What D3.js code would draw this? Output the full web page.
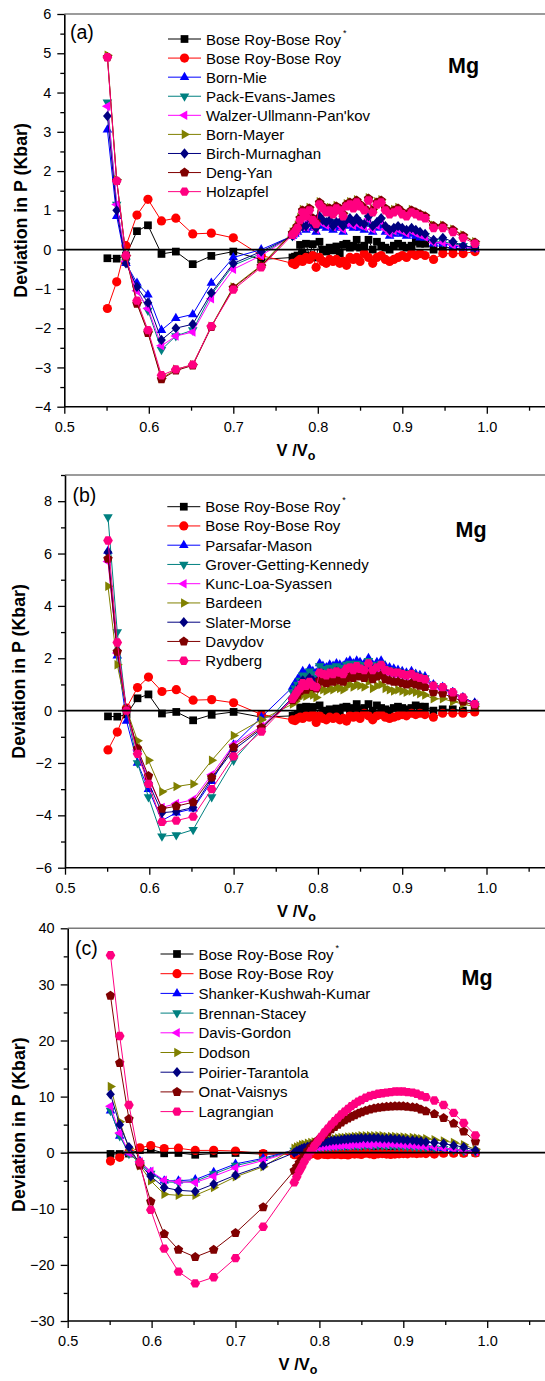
<!DOCTYPE html>
<html lang="en">
<head>
<meta charset="UTF-8">
<title>Deviation in P - Mg</title>
<script src="https://d3js.org/d3.v7.min.js"></script>
<style>
  body { margin: 0; background: #fff; }
  svg { display: block; }
  text { font-family: "Liberation Sans", Arial, Helvetica, sans-serif; }
</style>
</head>
<body>
<svg id="chart" width="545" height="1381"></svg>
<script>
// V/Vo values (11 sparse points, then the dense run)
var vRatio = [0.551, 0.562, 0.573, 0.586, 0.599, 0.615, 0.632, 0.652, 0.674, 0.700, 0.733,
  0.770, 0.773, 0.776, 0.779, 0.782, 0.786, 0.790, 0.794, 0.798, 0.802, 0.806, 0.810, 0.814, 0.818,
  0.822, 0.826, 0.830, 0.834, 0.838, 0.842, 0.846, 0.850, 0.855, 0.860, 0.865, 0.870, 0.875, 0.880,
  0.885, 0.890, 0.895, 0.900, 0.905, 0.911, 0.916, 0.921, 0.927, 0.937, 0.948, 0.960, 0.972, 0.986];

// shared by all three panels
var boseRoyStar = [-0.22, -0.23, -0.15, 0.47, 0.62, -0.11, -0.05, -0.37, -0.16, -0.05, -0.25,
  -0.2, -0.18, -0.15, 0.12, -0.1, 0.15, -0.15, 0.14, -0.2, 0.2, 0.0, -0.05, 0.05, -0.02, 0.08, -0.1, 0.12, 0.15, 0.05, 0.1,
  0.25, 0.05, 0.1, 0.25, 0.0, 0.2, 0.1, 0.05, 0.0, 0.1, 0.15, 0.1, 0.05, 0.1, 0.2, 0.15, 0.15, 0.0, 0.05, 0.05, 0.0, 0.0];
var boseRoy = [-1.5, -0.82, 0.1, 0.88, 1.28, 0.73, 0.8, 0.4, 0.42, 0.3, -0.15,
  -0.35, -0.38, -0.3, -0.25, -0.3, -0.2, -0.25, -0.15, -0.45, -0.2, -0.3, -0.35, -0.25, -0.3, -0.25, -0.35, -0.3, -0.4, -0.2, -0.25,
  -0.2, -0.3, -0.1, -0.2, -0.35, -0.2, -0.15, -0.25, -0.3, -0.25, -0.2, -0.15, -0.2, -0.1, -0.15, -0.1, -0.15, -0.25, -0.1, -0.1, -0.1, -0.05];

// panel (a)
var bornMie = [3.05, 0.85, -0.35, -0.85, -1.15, -2.05, -1.75, -1.65, -0.85, -0.2, 0.0,
  0.35, 0.4, 0.45, 0.6, 0.55, 0.5, 0.65, 0.55, 0.45, 0.7, 0.6, 0.55, 0.6, 0.5, 0.6, 0.55, 0.45, 0.6, 0.65, 0.55,
  0.6, 0.55, 0.5, 0.65, 0.45, 0.55, 0.6, 0.45, 0.35, 0.4, 0.45, 0.4, 0.35, 0.4, 0.35, 0.3, 0.3, 0.15, 0.15, 0.1, 0.05, 0.02];
var packEvansJames = [3.75, 1.15, -0.3, -1.0, -1.55, -2.55, -2.2, -2.05, -1.15, -0.4, -0.1,
  0.35, 0.45, 0.5, 0.65, 0.6, 0.6, 0.75, 0.65, 0.55, 0.8, 0.7, 0.65, 0.7, 0.6, 0.7, 0.65, 0.55, 0.7, 0.75, 0.65,
  0.75, 0.65, 0.6, 0.8, 0.55, 0.65, 0.75, 0.55, 0.45, 0.5, 0.55, 0.5, 0.45, 0.5, 0.45, 0.4, 0.35, 0.2, 0.2, 0.15, 0.1, 0.05];
var walzerUllmann = [3.65, 1.15, -0.3, -1.05, -1.5, -2.45, -2.2, -2.1, -1.25, -0.5, -0.15,
  0.35, 0.42, 0.48, 0.62, 0.58, 0.58, 0.72, 0.62, 0.52, 0.78, 0.68, 0.62, 0.68, 0.58, 0.68, 0.62, 0.52, 0.68, 0.72, 0.62,
  0.72, 0.62, 0.58, 0.78, 0.52, 0.62, 0.72, 0.52, 0.42, 0.48, 0.52, 0.48, 0.42, 0.48, 0.42, 0.38, 0.32, 0.18, 0.18, 0.12, 0.08, 0.04];
var bornMayer = [4.95, 1.78, -0.15, -1.35, -2.1, -3.28, -3.05, -2.93, -1.95, -0.95, -0.4,
  0.45, 0.52, 0.62, 0.82, 1.02, 0.92, 1.07, 0.82, 0.72, 1.22, 1.12, 1.02, 1.07, 0.97, 1.12, 1.07, 0.92, 1.17, 1.22, 1.12,
  1.27, 1.17, 1.07, 1.32, 1.02, 1.22, 1.27, 1.07, 0.97, 1.02, 1.07, 0.97, 0.92, 1.02, 0.97, 0.92, 0.87, 0.62, 0.62, 0.52, 0.37, 0.2];
var birchMurnaghan = [3.4, 1.0, -0.35, -0.95, -1.35, -2.3, -2.0, -1.9, -1.1, -0.35, -0.05,
  0.35, 0.45, 0.5, 0.65, 0.6, 0.6, 0.8, 0.65, 0.55, 0.85, 0.75, 0.7, 0.75, 0.6, 0.7, 0.7, 0.6, 0.75, 0.8, 0.7,
  0.8, 0.7, 0.65, 0.85, 0.6, 0.7, 0.8, 0.6, 0.5, 0.55, 0.6, 0.55, 0.5, 0.55, 0.5, 0.45, 0.4, 0.25, 0.3, 0.2, 0.1, 0.05];
var dengYan = [4.9, 1.75, -0.18, -1.38, -2.12, -3.3, -3.08, -2.95, -1.97, -0.97, -0.42,
  0.42, 0.5, 0.6, 0.8, 1.0, 0.9, 1.05, 0.8, 0.7, 1.2, 1.1, 1.0, 1.05, 0.95, 1.1, 1.05, 0.9, 1.15, 1.2, 1.1,
  1.25, 1.15, 1.05, 1.3, 1.0, 1.2, 1.25, 1.05, 0.95, 1.0, 1.05, 0.95, 0.9, 1.0, 0.95, 0.9, 0.85, 0.6, 0.6, 0.5, 0.35, 0.18];
var holzapfel = [4.9, 1.75, -0.15, -1.3, -2.05, -3.2, -3.05, -2.93, -1.95, -1.02, -0.45,
  0.38, 0.45, 0.55, 0.75, 0.95, 0.85, 1.0, 0.75, 0.65, 1.15, 1.05, 0.95, 1.0, 0.9, 1.05, 1.0, 0.85, 1.1, 1.15, 1.05,
  1.2, 1.1, 1.0, 1.25, 0.95, 1.15, 1.2, 1.0, 0.9, 0.95, 1.0, 0.9, 0.85, 0.95, 0.9, 0.85, 0.8, 0.55, 0.55, 0.45, 0.3, 0.15];

// panel (b)
var parsafarMason = [6.1, 2.1, -0.4, -2.0, -3.0, -4.2, -3.9, -3.75, -2.7, -1.3, -0.25,
  0.9, 1.05, 1.2, 1.3, 1.5, 1.4, 1.6, 1.5, 1.45, 1.8, 1.7, 1.65, 1.75, 1.7, 1.8, 1.75, 1.7, 1.85, 1.9, 1.8,
  1.9, 1.85, 1.8, 2.0, 1.75, 1.85, 1.9, 1.7, 1.65, 1.6, 1.55, 1.5, 1.45, 1.5, 1.4, 1.35, 1.3, 1.0, 0.9, 0.7, 0.5, 0.3];
var groverGettingKennedy = [7.4, 3.0, 0.0, -2.0, -3.3, -4.8, -4.75, -4.55, -3.3, -1.9, -0.7,
  0.7, 0.85, 1.0, 1.15, 1.35, 1.3, 1.5, 1.4, 1.35, 1.7, 1.6, 1.55, 1.65, 1.6, 1.7, 1.65, 1.6, 1.75, 1.8, 1.7,
  1.8, 1.75, 1.7, 1.9, 1.65, 1.75, 1.8, 1.6, 1.55, 1.5, 1.5, 1.45, 1.4, 1.45, 1.35, 1.3, 1.25, 0.95, 0.85, 0.65, 0.45, 0.25];
var kuncLoaSyassen = [5.7, 2.2, 0.05, -1.5, -2.6, -3.7, -3.55, -3.4, -2.45, -1.3, -0.6,
  0.45, 0.6, 0.75, 0.9, 1.1, 1.0, 1.2, 1.1, 1.05, 1.4, 1.35, 1.3, 1.4, 1.35, 1.45, 1.4, 1.35, 1.5, 1.55, 1.5,
  1.6, 1.55, 1.5, 1.7, 1.5, 1.6, 1.65, 1.5, 1.45, 1.4, 1.4, 1.35, 1.3, 1.35, 1.25, 1.2, 1.15, 0.9, 0.8, 0.65, 0.45, 0.25];
var bardeen = [4.75, 1.75, 0.05, -1.15, -1.9, -3.1, -2.9, -2.8, -1.9, -0.95, -0.35,
  0.25, 0.35, 0.45, 0.55, 0.65, 0.55, 0.7, 0.6, 0.5, 0.85, 0.8, 0.75, 0.85, 0.8, 0.9, 0.85, 0.8, 0.95, 1.0, 0.9,
  1.0, 0.95, 0.9, 1.1, 0.85, 0.95, 1.0, 0.85, 0.8, 0.75, 0.8, 0.75, 0.7, 0.75, 0.7, 0.65, 0.6, 0.45, 0.45, 0.35, 0.25, 0.15];
var slaterMorse = [6.05, 2.3, 0.0, -1.55, -2.75, -3.9, -3.85, -3.7, -2.6, -1.5, -0.7,
  0.5, 0.65, 0.8, 0.95, 1.15, 1.05, 1.25, 1.15, 1.1, 1.45, 1.4, 1.35, 1.45, 1.4, 1.5, 1.45, 1.4, 1.55, 1.6, 1.55,
  1.65, 1.6, 1.55, 1.75, 1.55, 1.65, 1.7, 1.55, 1.5, 1.45, 1.45, 1.4, 1.35, 1.4, 1.3, 1.25, 1.2, 0.95, 0.85, 0.7, 0.5, 0.28];
var davydov = [5.8, 2.25, 0.05, -1.45, -2.5, -3.75, -3.65, -3.5, -2.55, -1.4, -0.65,
  0.4, 0.5, 0.6, 0.75, 0.9, 0.8, 1.0, 0.9, 0.85, 1.15, 1.1, 1.05, 1.15, 1.1, 1.2, 1.15, 1.1, 1.25, 1.3, 1.25,
  1.35, 1.3, 1.25, 1.4, 1.2, 1.3, 1.35, 1.2, 1.15, 1.1, 1.1, 1.05, 1.0, 1.05, 1.0, 0.95, 0.9, 0.7, 0.65, 0.5, 0.35, 0.2];
var rydberg = [6.5, 2.6, 0.0, -1.65, -2.8, -4.25, -4.2, -4.05, -3.0, -1.75, -0.8,
  0.45, 0.6, 0.75, 0.85, 1.05, 0.95, 1.1, 0.95, 0.9, 1.45, 1.4, 1.35, 1.45, 1.4, 1.5, 1.45, 1.4, 1.6, 1.65, 1.55,
  1.7, 1.6, 1.55, 1.8, 1.55, 1.65, 1.75, 1.55, 1.5, 1.45, 1.45, 1.4, 1.35, 1.4, 1.3, 1.25, 1.2, 0.95, 0.9, 0.7, 0.5, 0.25];

// panel (c)
var shankerKushwahKumar = [7.5, 3.0, 0.0, -1.5, -3.5, -5.0, -5.0, -4.8, -3.5, -2.0, -1.0,
  0.5, 0.6, 0.7, 0.8, 0.9, 0.9, 1.0, 1.0, 1.1, 1.1, 1.2, 1.1, 1.2, 1.3, 1.2, 1.3, 1.4, 1.3, 1.4, 1.4,
  1.3, 1.4, 1.5, 1.4, 1.5, 1.4, 1.4, 1.5, 1.4, 1.3, 1.4, 1.3, 1.3, 1.2, 1.2, 1.1, 1.0, 0.9, 0.8, 0.6, 0.4, 0.3];
var brennanStacey = [7.5, 3.0, -0.2, -1.8, -3.7, -5.2, -5.3, -5.1, -3.8, -2.3, -1.2,
  0.4, 0.5, 0.6, 0.7, 0.8, 0.8, 0.9, 0.9, 1.0, 1.0, 1.1, 1.0, 1.1, 1.2, 1.1, 1.2, 1.2, 1.2, 1.3, 1.3,
  1.2, 1.3, 1.3, 1.3, 1.3, 1.3, 1.3, 1.3, 1.3, 1.2, 1.2, 1.2, 1.1, 1.1, 1.0, 1.0, 0.9, 0.8, 0.7, 0.5, 0.3, 0.2];
var davisGordon = [8.3, 3.5, 0.0, -1.6, -3.3, -4.9, -5.2, -5.3, -4.2, -2.7, -1.4,
  0.3, 0.4, 0.5, 0.6, 0.7, 0.8, 0.8, 0.9, 1.0, 1.0, 1.1, 1.1, 1.2, 1.2, 1.3, 1.3, 1.4, 1.3, 1.4, 1.5,
  1.4, 1.5, 1.5, 1.4, 1.5, 1.6, 1.5, 1.5, 1.6, 1.5, 1.5, 1.4, 1.4, 1.3, 1.3, 1.2, 1.1, 1.0, 0.8, 0.6, 0.4, 0.2];
var dodson = [11.8, 5.5, 0.8, -2.3, -5.0, -7.4, -7.6, -7.6, -6.2, -4.3, -2.5,
  0.8, 1.0, 1.2, 1.4, 1.5, 1.7, 1.8, 1.9, 2.0, 2.1, 2.3, 2.4, 2.4, 2.5, 2.6, 2.7, 2.7, 2.8, 2.8, 2.9,
  2.9, 3.0, 3.0, 3.0, 3.0, 3.0, 3.0, 2.9, 2.9, 2.9, 2.8, 2.8, 2.7, 2.7, 2.6, 2.5, 2.5, 2.3, 2.1, 1.8, 1.4, 0.6];
var poirierTarantola = [10.4, 5.0, 1.0, -2.0, -4.2, -6.2, -6.7, -6.9, -5.6, -4.0, -2.3,
  0.0, 0.3, 0.5, 0.7, 0.9, 1.1, 1.3, 1.5, 1.6, 1.8, 1.9, 2.0, 2.1, 2.2, 2.2, 2.3, 2.4, 2.4, 2.5, 2.5,
  2.5, 2.6, 2.6, 2.6, 2.6, 2.6, 2.5, 2.5, 2.5, 2.4, 2.4, 2.3, 2.2, 2.2, 2.1, 2.0, 1.9, 1.8, 1.6, 1.3, 1.0, 0.4];
var onatVaisnys = [28.0, 16.0, 6.0, -2.3, -8.7, -14.5, -17.3, -18.6, -17.3, -14.3, -9.7,
  -3.2, -2.5, -1.8, -1.2, -0.5, 0.3, 1.0, 1.6, 2.2, 2.7, 3.2, 3.7, 4.2, 4.6, 5.0, 5.4, 5.8, 6.1, 6.4, 6.7,
  7.0, 7.2, 7.5, 7.7, 7.9, 8.0, 8.1, 8.2, 8.25, 8.3, 8.3, 8.3, 8.2, 8.1, 8.0, 7.7, 7.4, 6.9, 6.2, 5.2, 3.8, 2.0];
var lagrangian = [35.2, 20.8, 8.5, -1.7, -10.2, -17.1, -21.2, -23.3, -22.2, -18.8, -13.2,
  -5.3, -4.3, -3.3, -2.5, -1.6, -0.7, 0.3, 1.2, 2.0, 2.8, 3.6, 4.3, 5.0, 5.6, 6.2, 6.8, 7.3, 7.8, 8.3, 8.7,
  9.1, 9.4, 9.8, 10.1, 10.3, 10.5, 10.6, 10.7, 10.8, 10.9, 10.9, 10.9, 10.8, 10.7, 10.5, 10.2, 9.9, 9.3, 8.5, 7.1, 5.3, 3.1];

var namesA = ["Bose Roy-Bose Roy", "Bose Roy-Bose Roy", "Born-Mie", "Pack-Evans-James", "Walzer-Ullmann-Pan'kov",
  "Born-Mayer", "Birch-Murnaghan", "Deng-Yan", "Holzapfel"];
var namesB = ["Bose Roy-Bose Roy", "Bose Roy-Bose Roy", "Parsafar-Mason", "Grover-Getting-Kennedy", "Kunc-Loa-Syassen",
  "Bardeen", "Slater-Morse", "Davydov", "Rydberg"];
var namesC = ["Bose Roy-Bose Roy", "Bose Roy-Bose Roy", "Shanker-Kushwah-Kumar", "Brennan-Stacey", "Davis-Gordon",
  "Dodson", "Poirier-Tarantola", "Onat-Vaisnys", "Lagrangian"];

var valuesA = [boseRoyStar, boseRoy, bornMie, packEvansJames, walzerUllmann, bornMayer, birchMurnaghan, dengYan, holzapfel];
var valuesB = [boseRoyStar, boseRoy, parsafarMason, groverGettingKennedy, kuncLoaSyassen, bardeen, slaterMorse, davydov, rydberg];
var valuesC = [boseRoyStar, boseRoy, shankerKushwahKumar, brennanStacey, davisGordon, dodson, poirierTarantola, onatVaisnys, lagrangian];

var colors = ["#000000", "#ff0000", "#0000ff", "#008080", "#ff00ff", "#808000", "#000080", "#800000", "#ff0080"];
var shapes = ["square", "circle", "triUp", "triDown", "triLeft", "triRight", "diamond", "pentagon", "hexagon"];

var xTicks = [0.5, 0.6, 0.7, 0.8, 0.9, 1.0];
var xMinor = [0.55, 0.65, 0.75, 0.85, 0.95, 1.05];

// layout of the three panels
var panels = [
  { tag: "(a)", names: namesA, values: valuesA, left: 64.3, unit: 845, top: 14, bottom: 406.7,
    yDomain: [-4, 6], yTicks: d3.range(-4, 6.01, 1), yMinor: d3.range(-3.5, 6, 1),
    tagX: 70, tagY: 39, mgX: 448, mgY: 73, ylabX: 26.5, labX: 296, legX: 168, legY: 39, legDy: 19.08 },
  { tag: "(b)", names: namesB, values: valuesB, left: 65, unit: 843, top: 475, bottom: 867.7,
    yDomain: [-6, 9], yTicks: d3.range(-6, 8.01, 2), yMinor: d3.range(-5, 9.01, 2),
    tagX: 72.5, tagY: 502, mgX: 455.5, mgY: 537, ylabX: 25, labX: 296.5, legX: 167.3, legY: 506.7, legDy: 19.25 },
  { tag: "(c)", names: namesC, values: valuesC, left: 67.7, unit: 839, top: 928.3, bottom: 1321,
    yDomain: [-30, 40], yTicks: d3.range(-30, 40.01, 10), yMinor: d3.range(-25, 36, 10),
    tagX: 75, tagY: 955, mgX: 461.5, mgY: 985, ylabX: 25, labX: 298, legX: 160.5, legY: 954, legDy: 19.7 }
];

var svg = d3.select("#chart");
var R = 4.6;

function polygon(n, rot, rr) {
  var pts = d3.range(n).map(function(i) {
    var a = rot + i * 2 * Math.PI / n;
    return [rr * Math.cos(a), rr * Math.sin(a)];
  });
  return "M" + pts.map(function(p) { return p[0].toFixed(2) + "," + p[1].toFixed(2); }).join("L") + "Z";
}

function shapePath(type) {
  switch (type) {
    case "square": var h = R * 0.84; return "M" + (-h) + "," + (-h) + "H" + h + "V" + h + "H" + (-h) + "Z";
    case "circle": return d3.symbol(d3.symbolCircle, Math.PI * R * R)();
    case "triUp": return polygon(3, -Math.PI / 2, R * 1.2);
    case "triDown": return polygon(3, Math.PI / 2, R * 1.2);
    case "triLeft": return polygon(3, Math.PI, R * 1.2);
    case "triRight": return polygon(3, 0, R * 1.2);
    case "diamond": return "M0," + (-R * 1.12) + "L" + (R * 0.95) + ",0L0," + (R * 1.12) + "L" + (-R * 0.95) + ",0Z";
    case "pentagon": return polygon(5, -Math.PI / 2, R * 1.08);
    case "hexagon": return polygon(6, 0, R * 1.05);
  }
}

panels.forEach(function(p) {
  var x = d3.scaleLinear().domain([0.5, 1.0]).range([p.left, p.left + p.unit * 0.5]);
  var y = d3.scaleLinear().domain(p.yDomain).range([p.bottom, p.top]);
  var g = svg.append("g");

  // top frame line
  g.append("line").attr("x1", p.left).attr("x2", 560).attr("y1", p.top).attr("y2", p.top)
    .attr("stroke", "#7a7a7a").attr("stroke-width", 1.6);

  // axes
  var xAxis = g.append("g").attr("transform", "translate(0," + p.bottom + ")")
    .call(d3.axisBottom(x).tickValues(xTicks).tickFormat(d3.format(".1f")).tickSize(7).tickPadding(8).tickSizeOuter(0));
  g.append("g").attr("transform", "translate(0," + p.bottom + ")")
    .call(d3.axisBottom(x).tickValues(xMinor).tickFormat("").tickSize(4).tickSizeOuter(0))
    .select(".domain").remove();
  g.append("g").attr("transform", "translate(" + p.left + ",0)")
    .call(d3.axisLeft(y).tickValues(p.yTicks).tickFormat(d3.format("d")).tickSize(7).tickPadding(6).tickSizeOuter(0));
  g.append("g").attr("transform", "translate(" + p.left + ",0)")
    .call(d3.axisLeft(y).tickValues(p.yMinor).tickFormat("").tickSize(4).tickSizeOuter(0))
    .select(".domain").remove();
  xAxis.select(".domain").attr("d", "M" + p.left + ",0H560");
  g.selectAll(".domain").attr("stroke-width", 1.6);
  g.selectAll(".tick line").attr("stroke-width", 1.3);
  g.selectAll(".tick text").attr("font-size", 14.5).attr("font-family", "Liberation Sans, Arial, sans-serif").attr("fill", "#000");

  // series
  var line = d3.line().x(function(d) { return x(d[0]); }).y(function(d) { return y(d[1]); });
  p.values.forEach(function(vals, i) {
    var pts = d3.zip(vRatio, vals);
    g.append("path").datum(pts).attr("d", line).attr("fill", "none")
      .attr("stroke", colors[i]).attr("stroke-width", 1);
    g.append("g").selectAll("path").data(pts).enter().append("path")
      .attr("d", shapePath(shapes[i]))
      .attr("transform", function(d) { return "translate(" + x(d[0]) + "," + y(d[1]) + ")"; })
      .attr("fill", colors[i]);
  });

  // zero line
  g.append("line").attr("x1", p.left).attr("x2", 560).attr("y1", y(0)).attr("y2", y(0))
    .attr("stroke", "#000").attr("stroke-width", 1.7);

  // legend
  p.names.forEach(function(name, i) {
    var ly = p.legY + i * p.legDy;
    g.append("line").attr("x1", p.legX).attr("x2", p.legX + 33).attr("y1", ly).attr("y2", ly)
      .attr("stroke", colors[i]).attr("stroke-width", 1);
    g.append("path").attr("d", shapePath(shapes[i]))
      .attr("transform", "translate(" + (p.legX + 16.5) + "," + ly + ")").attr("fill", colors[i]);
    var t = g.append("text").attr("x", p.legX + 38).attr("y", ly + 5.5).attr("font-size", 15).text(name);
    if (i === 0) t.append("tspan").attr("dx", 2).attr("dy", -9).attr("font-size", 9).text("*");
  });

  // labels
  g.append("text").attr("x", p.tagX).attr("y", p.tagY).attr("font-size", 19.5).text(p.tag);
  g.append("text").attr("x", p.mgX).attr("y", p.mgY).attr("font-size", 21.5).attr("font-weight", "bold").text("Mg");
  var mid = (p.top + p.bottom) / 2;
  g.append("text").attr("transform", "translate(" + p.ylabX + "," + mid + ") rotate(-90)")
    .attr("text-anchor", "middle").attr("font-size", 17.8).attr("font-weight", "bold")
    .text("Deviation in P (Kbar)");
  var xl = g.append("text").attr("x", p.labX).attr("y", p.bottom + 49)
    .attr("text-anchor", "middle").attr("font-size", 16.5).attr("font-weight", "bold");
  xl.append("tspan").text("V /V");
  xl.append("tspan").attr("dy", 4).attr("font-size", 12.5).text("o");
});
</script>
</body>
</html>
